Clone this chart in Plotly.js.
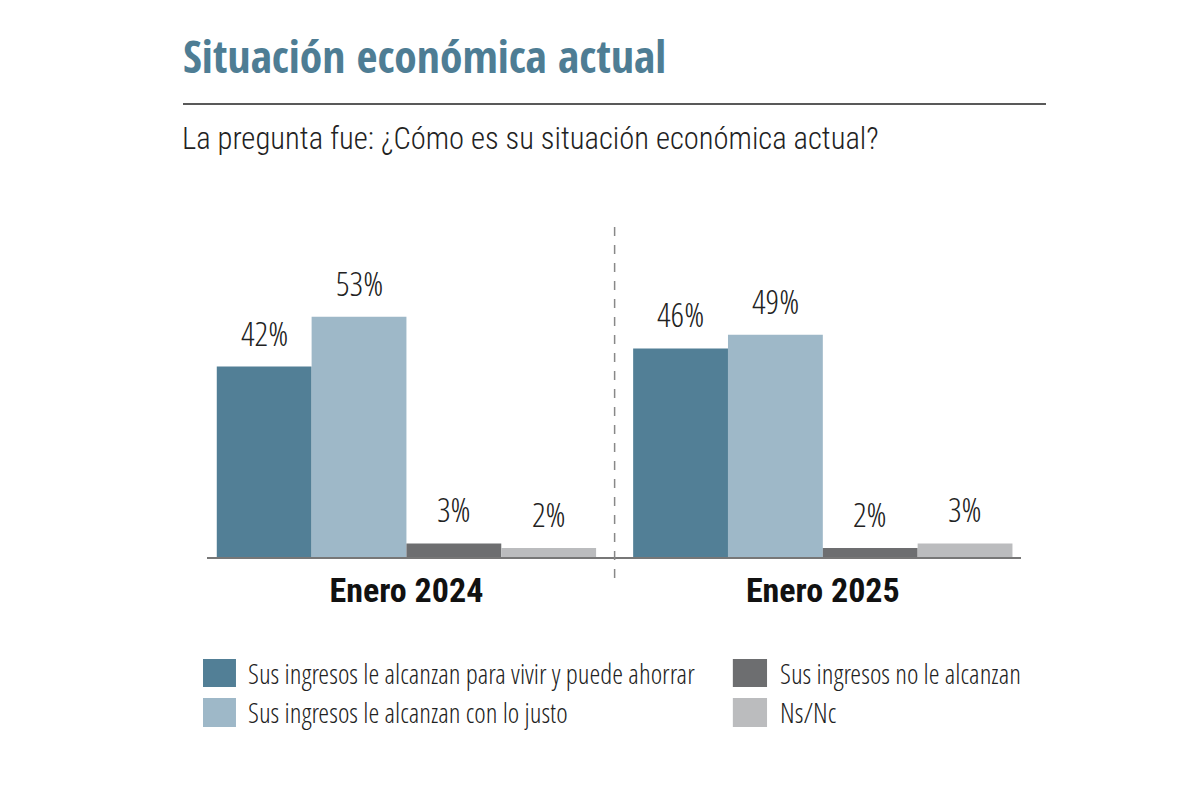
<!DOCTYPE html>
<html>
<head>
<meta charset="utf-8">
<script src="https://cdn.plot.ly/plotly-3.0.1.min.js"></script>
<style>html,body{margin:0;padding:0;background:#fff;}#chart{width:1200px;height:800px;}</style>
</head>
<body>
<div id="chart"></div>
<script>
const categories = ["Enero 2024", "Enero 2025"];
const seriesNames = [
  "Sus ingresos le alcanzan para vivir y puede ahorrar",
  "Sus ingresos le alcanzan con lo justo",
  "Sus ingresos no le alcanzan",
  "Ns/Nc"
];
const ahorrar = [42, 46];
const justo = [53, 49];
const noAlcanzan = [3, 2];
const nsnc = [2, 3];
const seriesValues = [ahorrar, justo, noAlcanzan, nsnc];
const seriesColors = ["#527f96", "#9eb8c8", "#6d6e70", "#bbbcbe"];

const titleText = "Situación económica actual";
const subtitleText = "La pregunta fue: ¿Cómo es su situación económica actual?";

const lightCond = "Open Sans Condensed Light";
const subFont = "Roboto Condensed Light";
const boldCond = "Open Sans Condensed";
const catFont = "Roboto Condensed";

const bargap = 0.089;
const barW = (1 - bargap) / seriesValues.length;

const traces = seriesValues.map((vals, j) => ({
  type: "bar",
  name: seriesNames[j],
  x: categories,
  y: vals,
  marker: {color: seriesColors[j], line: {width: 0}},
  hoverinfo: "skip",
  showlegend: false
}));

const annotations = [];
seriesValues.forEach((vals, j) => {
  vals.forEach((v, i) => {
    annotations.push({
      xref: "x", yref: "y",
      x: i + (j - (seriesValues.length - 1) / 2) * barW,
      y: v,
      text: v + "%",
      showarrow: false,
      yanchor: "bottom",
      yshift: 9,
      font: {family: lightCond, size: 34, color: "#222"}
    });
  });
});

annotations.push({
  xref: "paper", yref: "paper",
  x: -0.0295, y: 1.540,
  xanchor: "left", yanchor: "middle",
  xshift: -3,
  text: subtitleText,
  showarrow: false,
  font: {family: subFont, size: 30.6, color: "#222"}
});

const shapes = [
  {type: "line", xref: "paper", yref: "paper", x0: -0.0295, x1: 1.0307, y0: 1.665, y1: 1.665,
   line: {color: "#222", width: 1.5}},
  {type: "line", xref: "x", yref: "paper", x0: 0.5, x1: 0.5, y0: -0.077, y1: 1.22,
   line: {color: "#888", width: 1.5, dash: "dash"}}
];

// custom legend (column-major, 2 rows)
const legX = [[-0.0049, 0.0356], [0.646, 0.688]];
const legTextX = [0.0504, 0.704];
const legY = [[-0.375, -0.478], [-0.518, -0.625]];
seriesNames.forEach((name, i) => {
  const col = Math.floor(i / 2), row = i % 2;
  shapes.push({type: "rect", xref: "paper", yref: "paper",
    x0: legX[col][0], x1: legX[col][1], y0: legY[row][0], y1: legY[row][1],
    fillcolor: seriesColors[i], line: {width: 0}});
  annotations.push({xref: "paper", yref: "paper",
    x: legTextX[col], y: (legY[row][0] + legY[row][1]) / 2,
    xanchor: "left", yanchor: "middle", showarrow: false, xshift: -2,
    text: name, font: {family: lightCond, size: 27.6, color: "#222"}});
});

const layout = {
  width: 1200, height: 800,
  paper_bgcolor: "#fff", plot_bgcolor: "#fff",
  margin: {l: 207, r: 179, t: 285, b: 243},
  title: {
    text: titleText,
    xref: "container", yref: "container",
    x: 183 / 1200, xanchor: "left",
    y: 1 - 57 / 800, yanchor: "middle",
    font: {family: boldCond, size: 45.5, weight: "bold", color: "#4e7d94"}
  },
  barmode: "group",
  bargap: bargap,
  bargroupgap: 0,
  xaxis: {
    type: "category",
    range: [-0.479, 1.476],
    showline: true, linecolor: "#777", linewidth: 1.5,
    showgrid: false, zeroline: false,
    ticks: "outside", ticklen: 3, tickcolor: "rgba(0,0,0,0)",
    tickfont: {family: catFont, size: 34, weight: "bold", color: "#111"},
    fixedrange: true
  },
  yaxis: {
    range: [0, 60],
    visible: false,
    showgrid: false, zeroline: false,
    fixedrange: true
  },
  shapes: shapes,
  annotations: annotations,
  showlegend: false
};

Plotly.newPlot("chart", traces, layout, {displayModeBar: false, staticPlot: true});
</script>
</body>
</html>
